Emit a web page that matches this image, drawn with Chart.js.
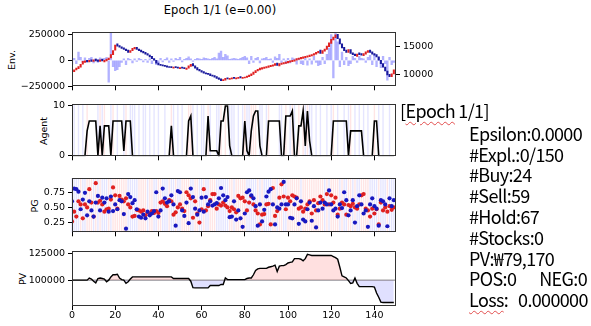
<!DOCTYPE html>
<html>
<head>
<meta charset="utf-8">
<script src="https://cdn.jsdelivr.net/npm/chart.js@4.4.0/dist/chart.umd.min.js"></script>
<style>
  html, body { margin: 0; padding: 0; background: #fff; }
  body { width: 591px; height: 326px; position: relative; overflow: hidden; font-family: "DejaVu Sans", sans-serif; color: #000; }
  canvas { position: absolute; left: 0; }
  .ylab { position: absolute; font-size: 9.5px; white-space: nowrap; transform: translate(-50%, -50%) rotate(-90deg); }
  #title { position: absolute; left: 0; top: 3px; width: 440px; text-align: center; font-size: 11.5px; }
  #info { position: absolute; left: 400px; top: 100px; font-family: "Noto Sans CJK KR", "Noto Sans", sans-serif; font-size: 18px; line-height: 20.8px; letter-spacing: -0.65px; }
  #info div { white-space: nowrap; }
  #info .sub { padding-left: 69px; }
  .spell { text-decoration: underline wavy rgba(220, 40, 40, 0.8); text-decoration-thickness: 1px; text-underline-offset: 3px; }
</style>
</head>
<body>
<div id="title">Epoch 1/1 (e=0.00)</div>
<div class="ylab" style="left:11px; top:60px;">Env.</div>
<div class="ylab" style="left:43px; top:131px;">Agent</div>
<div class="ylab" style="left:34px; top:206px;">PG</div>
<div class="ylab" style="left:22px; top:279px;">PV</div>

<canvas id="env" width="591" height="73" style="top:22px"></canvas>
<canvas id="agent" width="591" height="71" style="top:94px"></canvas>
<canvas id="pg" width="591" height="73" style="top:168px"></canvas>
<canvas id="pv" width="591" height="87" style="top:241px"></canvas>

<div id="info">
  <div><span>[</span><span class="spell">Epoch</span> 1/1]</div>
  <div class="sub" style="margin-top:2px">Epsilon:0.0000</div>
  <div class="sub">#Expl.:0/150</div>
  <div class="sub">#Buy:24</div>
  <div class="sub">#Sell:59</div>
  <div class="sub">#Hold:67</div>
  <div class="sub">#Stocks:0</div>
  <div class="sub">PV:₩79,170</div>
  <div class="sub">POS:0<span style="margin-left:23px">NEG:0</span></div>
  <div class="sub"><span class="spell">Loss</span>:<span style="margin-left:10px">0.000000</span></div>
</div>

<script>
// ---- data ----
const steps = Array.from({ length: 150 }, (_, i) => i);

const opens = [
  10300, 10500, 10800, 11000, 11300, 11800, 12100, 12500, 12200, 12600,
  12300, 12700, 12600, 12300, 12700, 12200, 12400, 12600, 12900, 13500,
  14300, 15400, 15100, 14900, 14700, 14500, 14300, 13900, 14200, 14500,
  14800, 14500, 14300, 14100, 13900, 13700, 13400, 13200, 12800, 12500,
  12000, 11800, 11700, 11600, 11500, 11400, 11400, 11100, 11400, 11300,
  11000, 11300, 11200, 10900, 11100, 11400, 11900, 11500, 11200, 10900,
  10700, 10500, 10300, 10200, 10100, 9900, 9800, 9600, 9400, 9200,
  8900, 9000, 9400, 9100, 9200, 9500, 9200, 9300, 9600, 9300,
  9400, 9450, 9600, 9800, 10000, 10300, 10600, 10800, 10950, 11050,
  11150, 11250, 11350, 11450, 11600, 12000, 11500, 11750, 11850, 11950,
  12050, 12150, 12250, 12350, 12500, 12650, 12750, 12850, 12950, 13050,
  13150, 13250, 13400, 13600, 13800, 14300, 13700, 14100, 14400, 14900,
  15500, 16100, 16500, 17100, 16300, 15400, 14800, 14300, 13900, 14400,
  13800, 13600, 13200, 13800, 13700, 13300, 13600, 13900, 14300, 14000,
  13700, 13500, 13100, 12500, 11900, 11300, 10600, 10000, 9600, 10100
];
const closes = [
  10600, 10800, 11100, 11400, 11800, 12300, 12400, 12200, 12500, 12300,
  12600, 12400, 12300, 12600, 12400, 12500, 12700, 12900, 13500, 14200,
  15200, 15000, 14800, 14600, 14400, 14200, 13900, 14200, 14600, 14800,
  14400, 14200, 14000, 13800, 13600, 13400, 13100, 12800, 12500, 12000,
  11700, 11600, 11500, 11400, 11300, 11250, 11200, 11300, 11200, 11100,
  11200, 11100, 11000, 11100, 11500, 11800, 11500, 11100, 10800, 10600,
  10400, 10200, 10100, 10000, 9800, 9700, 9500, 9300, 9100, 8900,
  9100, 9300, 9200, 9300, 9400, 9300, 9400, 9500, 9400, 9500,
  9550, 9700, 9900, 10100, 10400, 10700, 10900, 11100, 11200, 11300,
  11400, 11500, 11600, 11700, 11900, 11600, 11900, 12000, 12100, 12200,
  12300, 12400, 12500, 12600, 12800, 12900, 13000, 13100, 13200, 13300,
  13400, 13500, 13700, 13900, 14100, 13700, 14200, 14500, 15000, 15600,
  16200, 16600, 17000, 16300, 15400, 14700, 14200, 13900, 14400, 13700,
  13500, 13300, 13600, 13500, 13400, 13700, 14000, 14200, 13900, 13600,
  13400, 13100, 12500, 11900, 11300, 10600, 9900, 9600, 10100, 10800
];
const volumes = [
  -40000, 20000, -30000, 80000, 30000, -20000, 25000, -15000, 20000, 30000,
  -25000, 15000, -20000, 25000, 10000, 20000, 30000, -210000, 270000, -60000,
  -100000, -90000, -60000, -20000, 15000, -40000, 20000, 10000, -25000, 15000,
  -10000, 20000, 10000, -15000, 10000, -20000, 15000, -30000, 10000, -40000,
  -25000, 20000, -15000, 10000, 25000, -20000, 15000, -10000, 20000, 10000,
  30000, -15000, 10000, 20000, 35000, 15000, -10000, 10000, 20000, 15000,
  10000, 25000, 20000, 15000, 10000, 20000, 30000, 15000, 70000, 90000,
  30000, 60000, 45000, 10000, 15000, 20000, 15000, 10000, 20000, 30000,
  40000, 25000, -30000, 40000, -20000, 20000, 30000, -25000, 15000, 20000,
  30000, 10000, 15000, -20000, 35000, 20000, 60000, -20000, 15000, -30000,
  20000, -25000, 25000, 15000, -35000, 20000, -30000, -40000, 20000, -45000,
  15000, -35000, 40000, -20000, -50000, -40000, 30000, -30000, 60000, 120000,
  250000, -170000, 270000, 180000, -60000, 80000, -40000, 30000, -50000, -30000,
  40000, 20000, -20000, 40000, 20000, 15000, -20000, 30000, 50000, -40000,
  60000, -60000, 30000, -70000, 40000, -30000, -190000, 30000, -40000, -20000
];
const numStocks = [
  0, 0, 0, 0, 0, 0, 0, 5, 7, 7,
  7, 7, 0, 6, 0, 6, 6, 6, 0, 7,
  7, 7, 7, 7, 1, 7, 7, 7, 0, 0,
  0, 0, 0, 0, 0, 0, 0, 0, 0, 0,
  0, 0, 0, 0, 0, 0, 6, 0, 0, 0,
  0, 0, 0, 0, 7, 8, 0, 0, 0, 0,
  0, 0, 0, 8, 1, 1, 1, 1, 0, 7,
  7, 10, 10, 2, 0, 0, 0, 0, 0, 0,
  7, 1, 0, 5, 8, 9, 9, 2, 0, 0,
  0, 7, 7, 7, 7, 7, 7, 0, 0, 8,
  8, 8, 9, 0, 0, 6, 6, 9, 2, 9,
  3, 0, 0, 0, 0, 0, 0, 0, 0, 0,
  0, 7, 7, 7, 7, 7, 7, 7, 0, 5,
  5, 5, 5, 5, 5, 0, 0, 0, 0, 0,
  7, 7, 0, 0, 0, 0, 0, 0, 0, 0
];
// B = buy, S = sell, H = hold
const actions = (
  'HSHSHSHBHH' + 'HHSBSBHHSB' + 'HSHHSBHSSS' + 'HSHSSHSHSH' + 'SHHSHHBSHS' +
  'HSHHBBSHSH' + 'SSHBSHHSSB' + 'HBHSSSHSHS' + 'BSSBBBHSSH' + 'SBHHHHSSHB' +
  'HSBSHBHBSB' + 'SSHSHSHHSH' + 'SBHSHHSHSB' + 'HSHSHSHSHH' + 'BHSHSHHSHH'
).split('');
const pgBuy = [
  0.27, 0.43, 0.35, 0.60, 0.55, 0.32, 0.55, 0.50, 0.80, 0.58,
  0.35, 0.90, 0.58, 0.61, 0.55, 0.43, 0.47, 0.48, 0.63, 0.83,
  0.70, 0.48, 0.69, 0.63, 0.60, 0.65, 0.55, 0.50, 0.35, 0.36,
  0.46, 0.45, 0.43, 0.45, 0.37, 0.42, 0.40, 0.44, 0.41, 0.44,
  0.41, 0.58, 0.60, 0.56, 0.52, 0.62, 0.60, 0.38, 0.42, 0.50,
  0.55, 0.48, 0.44, 0.75, 0.70, 0.65, 0.33, 0.60, 0.40, 0.25,
  0.47, 0.80, 0.45, 0.52, 0.62, 0.72, 0.72, 0.48, 0.55, 0.53,
  0.58, 0.53, 0.50, 0.44, 0.50, 0.47, 0.42, 0.69, 0.65, 0.66,
  0.60, 0.45, 0.58, 0.68, 0.55, 0.45, 0.40, 0.22, 0.38, 0.39,
  0.55, 0.56, 0.22, 0.82, 0.36, 0.44, 0.66, 0.88, 0.68, 0.47,
  0.66, 0.60, 0.70, 0.68, 0.66, 0.48, 0.50, 0.43, 0.48, 0.55,
  0.60, 0.40, 0.62, 0.45, 0.57, 0.68, 0.62, 0.55, 0.72, 0.55,
  0.70, 0.58, 0.66, 0.38, 0.48, 0.58, 0.55, 0.38, 0.54, 0.52,
  0.56, 0.50, 0.48, 0.55, 0.70, 0.72, 0.48, 0.45, 0.35, 0.48,
  0.40, 0.47, 0.22, 0.58, 0.45, 0.50, 0.43, 0.52, 0.46, 0.50
];
const pgSell = [
  0.60, 0.81, 0.80, 0.76, 0.47, 0.63, 0.74, 0.37, 0.60, 0.45,
  0.35, 0.58, 0.69, 0.45, 0.66, 0.58, 0.65, 0.43, 0.68, 0.44,
  0.55, 0.47, 0.62, 0.60, 0.39, 0.15, 0.72, 0.67, 0.57, 0.62,
  0.47, 0.35, 0.33, 0.38, 0.32, 0.43, 0.37, 0.40, 0.44, 0.75,
  0.35, 0.45, 0.81, 0.65, 0.58, 0.60, 0.70, 0.55, 0.20, 0.77,
  0.75, 0.45, 0.36, 0.58, 0.24, 0.81, 0.67, 0.48, 0.38, 0.45,
  0.66, 0.43, 0.67, 0.55, 0.60, 0.53, 0.55, 0.57, 0.65, 0.82,
  0.70, 0.62, 0.67, 0.34, 0.35, 0.60, 0.30, 0.45, 0.32, 0.18,
  0.40, 0.75, 0.78, 0.70, 0.65, 0.52, 0.20, 0.55, 0.27, 0.46,
  0.68, 0.76, 0.80, 0.55, 0.22, 0.50, 0.48, 0.55, 0.92, 0.55,
  0.55, 0.33, 0.32, 0.55, 0.65, 0.23, 0.60, 0.30, 0.27, 0.47,
  0.58, 0.28, 0.52, 0.17, 0.45, 0.58, 0.48, 0.58, 0.55, 0.78,
  0.55, 0.45, 0.48, 0.35, 0.55, 0.49, 0.75, 0.62, 0.37, 0.45,
  0.62, 0.25, 0.52, 0.70, 0.55, 0.40, 0.45, 0.18, 0.55, 0.65,
  0.52, 0.48, 0.20, 0.62, 0.60, 0.55, 0.19, 0.65, 0.52, 0.62
];
const portfolio = [
  100000, 100000, 100000, 100000, 100000, 100000, 100000, 100000, 102000, 101000,
  99000, 97500, 101500, 102000, 101500, 101000, 98500, 100000, 103000, 105000,
  105000, 105500, 102000, 100500, 100000, 97000, 98500, 101000, 103000, 103000,
  103000, 103000, 103000, 103000, 103000, 103000, 103000, 103000, 103000, 103000,
  103000, 103000, 103000, 103000, 103000, 103000, 103000, 101500, 101500, 101500,
  101500, 101500, 101500, 101500, 101500, 99000, 93000, 92800, 92800, 92800,
  92800, 92800, 92800, 92800, 95000, 95000, 95000, 95000, 95000, 96000,
  96000, 102000, 100500, 100500, 100500, 100500, 100500, 100500, 100500, 100500,
  100500, 101500, 102000, 102000, 105000, 109000, 110500, 111000, 111000, 111000,
  111000, 112000, 112500, 113000, 114000, 108000, 113000, 113500, 113500, 114500,
  116000, 116500, 117000, 120000, 120000, 120000, 119500, 118000, 120000, 124000,
  123500, 123000, 123000, 123000, 123000, 123000, 123000, 123000, 123000, 123000,
  123000, 122000, 121000, 119500, 112000, 104000, 103000, 102000, 99500, 97000,
  97500, 102000, 97000, 94000, 94000, 94000, 94000, 94000, 94000, 94000,
  93500, 88000, 84000, 79500, 79170, 79170, 79170, 79170, 79170, 79170
];
const initBalance = 100000;

const xTicks = [0, 20, 40, 60, 80, 100, 120, 140];
const volTicks = [-250000, 0, 250000];
const priceTicks = [10000, 15000];
const agentTicks = [0, 10];
const pgTicks = [0.25, 0.5, 0.75];
const pvTicks = [100000, 125000];

// ---- styling ----
const FONT = { family: 'DejaVu Sans', size: 9.5 };
const INK = '#000';
const UP = '#e02222';
const DOWN = '#1a1a9c';
const BUY_BG = 'rgba(255,0,0,0.1)';
const SELL_BG = 'rgba(0,0,255,0.1)';

const setTicks = values => scale => { scale.ticks = values.map(v => ({ value: v })); };

function xAxis(showLabels, height) {
  return {
    type: 'linear', min: 0, max: 150, offset: false,
    afterBuildTicks: setTicks(xTicks),
    afterFit: s => { s.height = height; },
    grid: { drawOnChartArea: false, drawTicks: true, tickLength: 4, color: INK, offset: false },
    border: { display: false },
    ticks: { display: showLabels, font: FONT, color: INK, padding: 0, maxRotation: 0 }
  };
}

function yAxis(min, max, ticks, fmt, position = 'left', width = 72) {
  return {
    type: 'linear', position, min, max,
    afterBuildTicks: setTicks(ticks),
    afterFit: s => { s.width = width; },
    grid: { drawOnChartArea: false, drawTicks: true, tickLength: 4, color: INK },
    border: { display: false },
    ticks: { font: FONT, color: INK, padding: 3, callback: fmt }
  };
}

const frame = {
  id: 'frame',
  afterDatasetsDraw(chart) {
    const { ctx, chartArea: a } = chart;
    ctx.save();
    ctx.strokeStyle = '#333';
    ctx.lineWidth = 1;
    ctx.strokeRect(Math.round(a.left) + 0.5, Math.round(a.top) + 0.5, Math.round(a.width) - 1, Math.round(a.height) - 1);
    ctx.restore();
  }
};

// faint vertical lines behind the data, one per step
function vlines(colorAt) {
  return {
    id: 'vlines',
    beforeDatasetsDraw(chart) {
      const { ctx, chartArea: a, scales: { x } } = chart;
      ctx.save();
      ctx.lineWidth = 1.4;
      steps.forEach(i => {
        const c = colorAt(i);
        if (!c) return;
        const px = x.getPixelForValue(i);
        ctx.strokeStyle = c;
        ctx.beginPath();
        ctx.moveTo(px, a.top);
        ctx.lineTo(px, a.bottom);
        ctx.stroke();
      });
      ctx.restore();
    }
  };
}

const base = {
  responsive: false,
  animation: false,
  devicePixelRatio: 1,
  plugins: { legend: { display: false }, tooltip: { enabled: false } }
};

const signed = v => (v < 0 ? '\u2212' + (-v) : String(v));

// Env.: volume bars + candles on a twin axis
new Chart(document.getElementById('env'), {
  type: 'bar',
  data: {
    datasets: [
      {
        data: steps.map(i => ({ x: i, y: volumes[i] })),
        yAxisID: 'yv', backgroundColor: 'rgba(0,0,255,0.3)',
        barThickness: 1.7, grouped: false, order: 2
      },
      {
        data: steps.map(i => ({ x: i, y: [opens[i], closes[i]] })),
        yAxisID: 'yp', backgroundColor: steps.map(i => (closes[i] >= opens[i] ? UP : DOWN)),
        barThickness: 1.4, grouped: false, order: 1
      }
    ]
  },
  options: {
    ...base,
    layout: { padding: { top: 10, left: 0, right: 0, bottom: 0 } },
    scales: {
      x: xAxis(false, 8),
      yv: yAxis(-250000, 275000, volTicks, signed),
      yp: yAxis(7900, 17500, priceTicks, v => String(v), 'right', 195)
    }
  },
  plugins: [frame]
});

// Agent: number of stocks held, actions behind
new Chart(document.getElementById('agent'), {
  type: 'line',
  data: {
    datasets: [{
      data: steps.map(i => ({ x: i, y: numStocks[i] })),
      borderColor: INK, borderWidth: 1.6, pointRadius: 0, tension: 0
    }]
  },
  options: {
    ...base,
    layout: { padding: { top: 10, left: 0, right: 195, bottom: 0 } },
    scales: { x: xAxis(false, 8), y: yAxis(-0.1, 10.4, agentTicks, v => String(v)) }
  },
  plugins: [vlines(i => (actions[i] === 'B' ? BUY_BG : actions[i] === 'S' ? SELL_BG : null)), frame]
});

// PG: policy outputs
new Chart(document.getElementById('pg'), {
  type: 'scatter',
  data: {
    datasets: [
      { data: steps.map(i => ({ x: i, y: pgBuy[i] })), backgroundColor: '#e02020', pointRadius: 2.1, borderWidth: 0, order: 2 },
      { data: steps.map(i => ({ x: i, y: pgSell[i] })), backgroundColor: '#1818c0', pointRadius: 2.1, borderWidth: 0, order: 1 }
    ]
  },
  options: {
    ...base,
    layout: { padding: { top: 10, left: 0, right: 195, bottom: 0 } },
    scales: { x: xAxis(false, 8), y: yAxis(0.09, 0.985, pgTicks, v => v.toFixed(2)) }
  },
  plugins: [vlines(i => (pgBuy[i] > pgSell[i] ? BUY_BG : SELL_BG)), frame]
});

// PV: portfolio value against the initial balance
new Chart(document.getElementById('pv'), {
  type: 'line',
  data: {
    datasets: [
      {
        data: steps.map(i => ({ x: i, y: portfolio[i] })),
        borderColor: INK, borderWidth: 1.4, pointRadius: 0, tension: 0, order: 1,
        fill: { target: { value: initBalance }, above: 'rgba(255,0,0,0.12)', below: 'rgba(0,0,255,0.12)' }
      },
      {
        data: [{ x: 0, y: initBalance }, { x: 150, y: initBalance }],
        borderColor: '#808080', borderWidth: 1, pointRadius: 0, order: 2
      }
    ]
  },
  options: {
    ...base,
    layout: { padding: { top: 10, left: 0, right: 195, bottom: 0 } },
    scales: { x: xAxis(true, 22), y: yAxis(75900, 127150, pvTicks, v => String(v)) }
  },
  plugins: [frame]
});
</script>
</body>
</html>
